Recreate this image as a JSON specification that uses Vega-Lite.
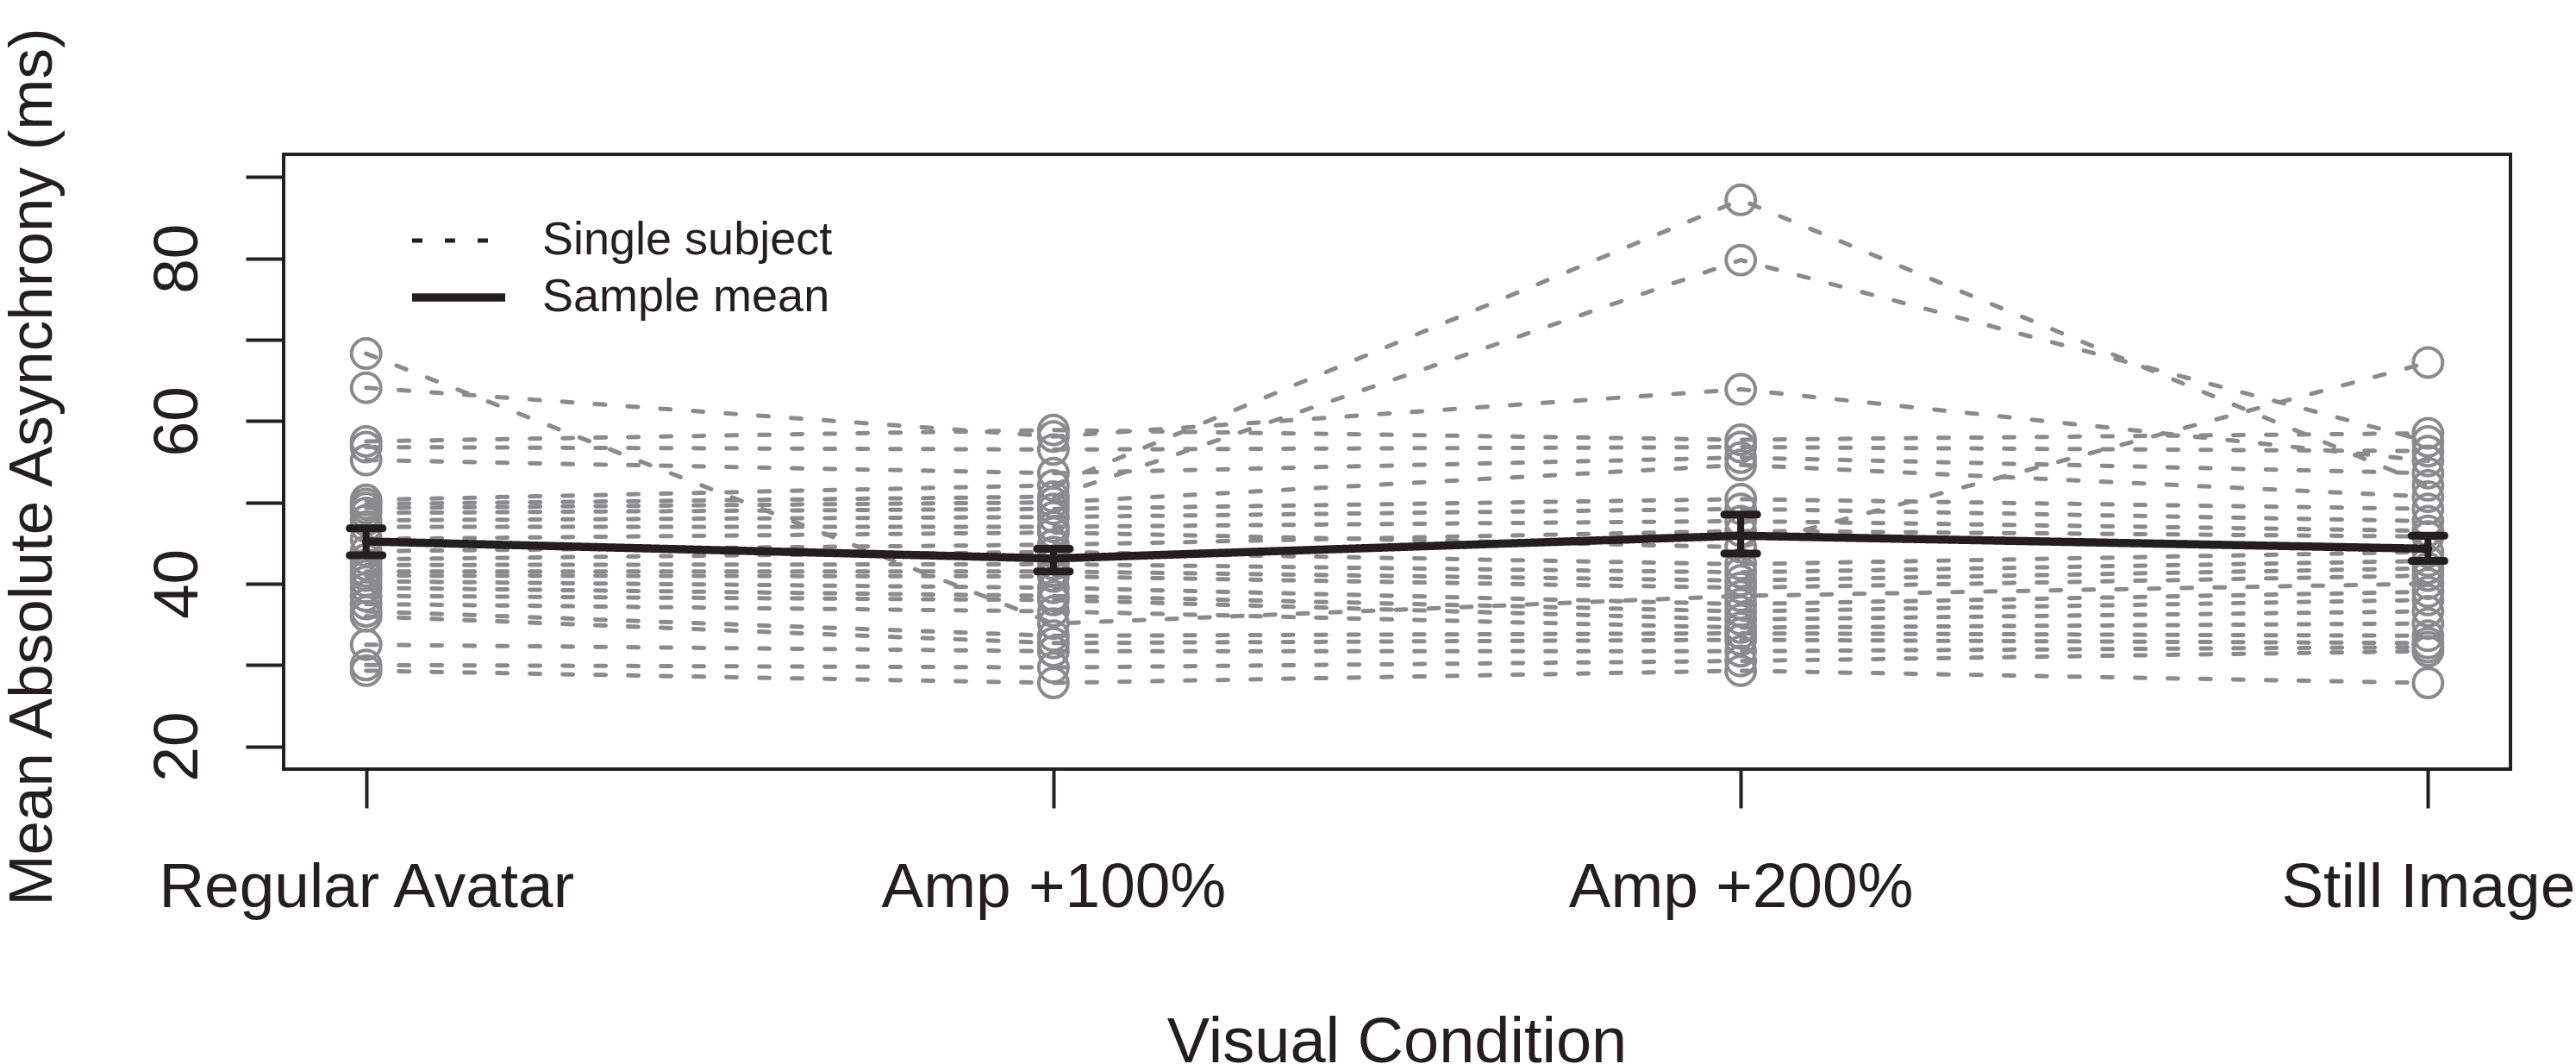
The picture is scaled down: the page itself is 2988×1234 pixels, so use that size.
{
  "$schema": "https://vega.github.io/schema/vega-lite/v6.json",
  "description": "Mean absolute asynchrony per subject across four visual conditions, with the sample mean and error bars.",
  "width": 2583,
  "height": 713,
  "autosize": "none",
  "padding": {"left": 329, "top": 179, "right": 76, "bottom": 342},
  "background": "white",
  "datasets": {
    "subjects": [
      {"subject": 1, "idx": 1, "condition": "Regular Avatar", "value": 68.3, "series": "Single subject"},
      {"subject": 1, "idx": 2, "condition": "Amp +100%", "value": 35.1, "series": "Single subject"},
      {"subject": 1, "idx": 3, "condition": "Amp +200%", "value": 38.5, "series": "Single subject"},
      {"subject": 1, "idx": 4, "condition": "Still Image", "value": 40.0, "series": "Single subject"},
      {"subject": 2, "idx": 1, "condition": "Regular Avatar", "value": 64.1, "series": "Single subject"},
      {"subject": 2, "idx": 2, "condition": "Amp +100%", "value": 58.1, "series": "Single subject"},
      {"subject": 2, "idx": 3, "condition": "Amp +200%", "value": 63.9, "series": "Single subject"},
      {"subject": 2, "idx": 4, "condition": "Still Image", "value": 55.1, "series": "Single subject"},
      {"subject": 3, "idx": 1, "condition": "Regular Avatar", "value": 57.5, "series": "Single subject"},
      {"subject": 3, "idx": 2, "condition": "Amp +100%", "value": 58.9, "series": "Single subject"},
      {"subject": 3, "idx": 3, "condition": "Amp +200%", "value": 57.7, "series": "Single subject"},
      {"subject": 3, "idx": 4, "condition": "Still Image", "value": 58.5, "series": "Single subject"},
      {"subject": 4, "idx": 1, "condition": "Regular Avatar", "value": 56.8, "series": "Single subject"},
      {"subject": 4, "idx": 2, "condition": "Amp +100%", "value": 56.5, "series": "Single subject"},
      {"subject": 4, "idx": 3, "condition": "Amp +200%", "value": 56.8, "series": "Single subject"},
      {"subject": 4, "idx": 4, "condition": "Still Image", "value": 56.3, "series": "Single subject"},
      {"subject": 5, "idx": 1, "condition": "Regular Avatar", "value": 55.2, "series": "Single subject"},
      {"subject": 5, "idx": 2, "condition": "Amp +100%", "value": 53.6, "series": "Single subject"},
      {"subject": 5, "idx": 3, "condition": "Amp +200%", "value": 55.5, "series": "Single subject"},
      {"subject": 5, "idx": 4, "condition": "Still Image", "value": 53.6, "series": "Single subject"},
      {"subject": 6, "idx": 1, "condition": "Regular Avatar", "value": 50.3, "series": "Single subject"},
      {"subject": 6, "idx": 2, "condition": "Amp +100%", "value": 52.1, "series": "Single subject"},
      {"subject": 6, "idx": 3, "condition": "Amp +200%", "value": 87.2, "series": "Single subject"},
      {"subject": 6, "idx": 4, "condition": "Still Image", "value": 52.1, "series": "Single subject"},
      {"subject": 7, "idx": 1, "condition": "Regular Avatar", "value": 49.8, "series": "Single subject"},
      {"subject": 7, "idx": 2, "condition": "Amp +100%", "value": 50.7, "series": "Single subject"},
      {"subject": 7, "idx": 3, "condition": "Amp +200%", "value": 79.8, "series": "Single subject"},
      {"subject": 7, "idx": 4, "condition": "Still Image", "value": 57.5, "series": "Single subject"},
      {"subject": 8, "idx": 1, "condition": "Regular Avatar", "value": 49.3, "series": "Single subject"},
      {"subject": 8, "idx": 2, "condition": "Amp +100%", "value": 50.0, "series": "Single subject"},
      {"subject": 8, "idx": 3, "condition": "Amp +200%", "value": 54.6, "series": "Single subject"},
      {"subject": 8, "idx": 4, "condition": "Still Image", "value": 50.7, "series": "Single subject"},
      {"subject": 9, "idx": 1, "condition": "Regular Avatar", "value": 48.7, "series": "Single subject"},
      {"subject": 9, "idx": 2, "condition": "Amp +100%", "value": 49.2, "series": "Single subject"},
      {"subject": 9, "idx": 3, "condition": "Amp +200%", "value": 50.4, "series": "Single subject"},
      {"subject": 9, "idx": 4, "condition": "Still Image", "value": 49.2, "series": "Single subject"},
      {"subject": 10, "idx": 1, "condition": "Regular Avatar", "value": 47.8, "series": "Single subject"},
      {"subject": 10, "idx": 2, "condition": "Amp +100%", "value": 48.2, "series": "Single subject"},
      {"subject": 10, "idx": 3, "condition": "Amp +200%", "value": 49.2, "series": "Single subject"},
      {"subject": 10, "idx": 4, "condition": "Still Image", "value": 47.7, "series": "Single subject"},
      {"subject": 11, "idx": 1, "condition": "Regular Avatar", "value": 47.0, "series": "Single subject"},
      {"subject": 11, "idx": 2, "condition": "Amp +100%", "value": 47.0, "series": "Single subject"},
      {"subject": 11, "idx": 3, "condition": "Amp +200%", "value": 47.7, "series": "Single subject"},
      {"subject": 11, "idx": 4, "condition": "Still Image", "value": 46.5, "series": "Single subject"},
      {"subject": 12, "idx": 1, "condition": "Regular Avatar", "value": 45.5, "series": "Single subject"},
      {"subject": 12, "idx": 2, "condition": "Amp +100%", "value": 46.3, "series": "Single subject"},
      {"subject": 12, "idx": 3, "condition": "Amp +200%", "value": 44.5, "series": "Single subject"},
      {"subject": 12, "idx": 4, "condition": "Still Image", "value": 67.2, "series": "Single subject"},
      {"subject": 13, "idx": 1, "condition": "Regular Avatar", "value": 44.0, "series": "Single subject"},
      {"subject": 13, "idx": 2, "condition": "Amp +100%", "value": 44.8, "series": "Single subject"},
      {"subject": 13, "idx": 3, "condition": "Amp +200%", "value": 46.5, "series": "Single subject"},
      {"subject": 13, "idx": 4, "condition": "Still Image", "value": 45.8, "series": "Single subject"},
      {"subject": 14, "idx": 1, "condition": "Regular Avatar", "value": 43.0, "series": "Single subject"},
      {"subject": 14, "idx": 2, "condition": "Amp +100%", "value": 43.9, "series": "Single subject"},
      {"subject": 14, "idx": 3, "condition": "Amp +200%", "value": 42.4, "series": "Single subject"},
      {"subject": 14, "idx": 4, "condition": "Still Image", "value": 43.9, "series": "Single subject"},
      {"subject": 15, "idx": 1, "condition": "Regular Avatar", "value": 42.3, "series": "Single subject"},
      {"subject": 15, "idx": 2, "condition": "Amp +100%", "value": 42.4, "series": "Single subject"},
      {"subject": 15, "idx": 3, "condition": "Amp +200%", "value": 41.4, "series": "Single subject"},
      {"subject": 15, "idx": 4, "condition": "Still Image", "value": 42.8, "series": "Single subject"},
      {"subject": 16, "idx": 1, "condition": "Regular Avatar", "value": 41.5, "series": "Single subject"},
      {"subject": 16, "idx": 2, "condition": "Amp +100%", "value": 41.5, "series": "Single subject"},
      {"subject": 16, "idx": 3, "condition": "Amp +200%", "value": 40.4, "series": "Single subject"},
      {"subject": 16, "idx": 4, "condition": "Still Image", "value": 41.9, "series": "Single subject"},
      {"subject": 17, "idx": 1, "condition": "Regular Avatar", "value": 41.0, "series": "Single subject"},
      {"subject": 17, "idx": 2, "condition": "Amp +100%", "value": 40.9, "series": "Single subject"},
      {"subject": 17, "idx": 3, "condition": "Amp +200%", "value": 39.5, "series": "Single subject"},
      {"subject": 17, "idx": 4, "condition": "Still Image", "value": 41.0, "series": "Single subject"},
      {"subject": 18, "idx": 1, "condition": "Regular Avatar", "value": 40.3, "series": "Single subject"},
      {"subject": 18, "idx": 2, "condition": "Amp +100%", "value": 39.5, "series": "Single subject"},
      {"subject": 18, "idx": 3, "condition": "Amp +200%", "value": 37.5, "series": "Single subject"},
      {"subject": 18, "idx": 4, "condition": "Still Image", "value": 39.0, "series": "Single subject"},
      {"subject": 19, "idx": 1, "condition": "Regular Avatar", "value": 39.5, "series": "Single subject"},
      {"subject": 19, "idx": 2, "condition": "Amp +100%", "value": 38.5, "series": "Single subject"},
      {"subject": 19, "idx": 3, "condition": "Amp +200%", "value": 36.6, "series": "Single subject"},
      {"subject": 19, "idx": 4, "condition": "Still Image", "value": 38.0, "series": "Single subject"},
      {"subject": 20, "idx": 1, "condition": "Regular Avatar", "value": 38.5, "series": "Single subject"},
      {"subject": 20, "idx": 2, "condition": "Amp +100%", "value": 38.0, "series": "Single subject"},
      {"subject": 20, "idx": 3, "condition": "Amp +200%", "value": 35.6, "series": "Single subject"},
      {"subject": 20, "idx": 4, "condition": "Still Image", "value": 36.6, "series": "Single subject"},
      {"subject": 21, "idx": 1, "condition": "Regular Avatar", "value": 37.5, "series": "Single subject"},
      {"subject": 21, "idx": 2, "condition": "Amp +100%", "value": 36.6, "series": "Single subject"},
      {"subject": 21, "idx": 3, "condition": "Amp +200%", "value": 34.6, "series": "Single subject"},
      {"subject": 21, "idx": 4, "condition": "Still Image", "value": 35.1, "series": "Single subject"},
      {"subject": 22, "idx": 1, "condition": "Regular Avatar", "value": 36.6, "series": "Single subject"},
      {"subject": 22, "idx": 2, "condition": "Amp +100%", "value": 33.6, "series": "Single subject"},
      {"subject": 22, "idx": 3, "condition": "Amp +200%", "value": 33.9, "series": "Single subject"},
      {"subject": 22, "idx": 4, "condition": "Still Image", "value": 33.6, "series": "Single subject"},
      {"subject": 23, "idx": 1, "condition": "Regular Avatar", "value": 36.0, "series": "Single subject"},
      {"subject": 23, "idx": 2, "condition": "Amp +100%", "value": 32.7, "series": "Single subject"},
      {"subject": 23, "idx": 3, "condition": "Amp +200%", "value": 33.1, "series": "Single subject"},
      {"subject": 23, "idx": 4, "condition": "Still Image", "value": 32.7, "series": "Single subject"},
      {"subject": 24, "idx": 1, "condition": "Regular Avatar", "value": 32.5, "series": "Single subject"},
      {"subject": 24, "idx": 2, "condition": "Amp +100%", "value": 31.7, "series": "Single subject"},
      {"subject": 24, "idx": 3, "condition": "Amp +200%", "value": 31.7, "series": "Single subject"},
      {"subject": 24, "idx": 4, "condition": "Still Image", "value": 32.2, "series": "Single subject"},
      {"subject": 25, "idx": 1, "condition": "Regular Avatar", "value": 30.0, "series": "Single subject"},
      {"subject": 25, "idx": 2, "condition": "Amp +100%", "value": 29.7, "series": "Single subject"},
      {"subject": 25, "idx": 3, "condition": "Amp +200%", "value": 30.5, "series": "Single subject"},
      {"subject": 25, "idx": 4, "condition": "Still Image", "value": 31.7, "series": "Single subject"},
      {"subject": 26, "idx": 1, "condition": "Regular Avatar", "value": 29.3, "series": "Single subject"},
      {"subject": 26, "idx": 2, "condition": "Amp +100%", "value": 27.8, "series": "Single subject"},
      {"subject": 26, "idx": 3, "condition": "Amp +200%", "value": 29.3, "series": "Single subject"},
      {"subject": 26, "idx": 4, "condition": "Still Image", "value": 27.8, "series": "Single subject"}
    ],
    "means": [
      {"idx": 1, "condition": "Regular Avatar", "mean": 45.2, "lo": 43.5, "hi": 46.8, "series": "Sample mean"},
      {"idx": 2, "condition": "Amp +100%", "mean": 43.1, "lo": 41.5, "hi": 44.3, "series": "Sample mean"},
      {"idx": 3, "condition": "Amp +200%", "mean": 45.9, "lo": 43.7, "hi": 48.5, "series": "Sample mean"},
      {"idx": 4, "condition": "Still Image", "mean": 44.3, "lo": 42.8, "hi": 45.9, "series": "Sample mean"}
    ]
  },
  "encoding": {
    "x": {
      "field": "condition",
      "type": "ordinal",
      "sort": ["Regular Avatar", "Amp +100%", "Amp +200%", "Still Image"],
      "scale": {"type": "point", "padding": 0.12},
      "axis": {
        "title": "Visual Condition",
        "domain": false,
        "grid": false,
        "labelAngle": 0,
        "tickSize": 45,
        "tickWidth": 4,
        "labelBaseline": "alphabetic",
        "labelPadding": 114,
        "labelFontSize": 73,
        "labelLimit": 0,
        "labelOverlap": false,
        "labelBound": false,
        "titleFontSize": 74,
        "titleFontWeight": "normal",
        "titleBaseline": "alphabetic",
        "titleX": 1291,
        "titleY": 339
      }
    }
  },
  "layer": [
    {
      "data": {"name": "subjects"},
      "mark": {"type": "line", "color": "#8b8b8d", "strokeCap": "round"},
      "encoding": {
        "y": {"field": "value", "type": "quantitative"},
        "detail": {"field": "subject"},
        "order": {"field": "idx", "type": "quantitative"},
        "strokeDash": {
          "field": "series",
          "type": "nominal",
          "scale": {"domain": ["Single subject", "Sample mean"], "range": [[12, 26], [1, 0]]},
          "legend": {"title": null}
        },
        "strokeWidth": {
          "field": "series",
          "type": "nominal",
          "scale": {"domain": ["Single subject", "Sample mean"], "range": [5, 9.5]},
          "legend": {"title": null}
        }
      }
    },
    {
      "data": {"name": "subjects"},
      "mark": {"type": "point", "shape": "circle", "filled": false, "color": "#8b8b8d", "opacity": 1, "size": 1150, "strokeWidth": 4},
      "encoding": {
        "y": {"field": "value", "type": "quantitative"}
      }
    },
    {
      "data": {"name": "means"},
      "mark": {"type": "line", "color": "#231f20", "strokeCap": "round"},
      "encoding": {
        "y": {"field": "mean", "type": "quantitative"},
        "order": {"field": "idx", "type": "quantitative"},
        "strokeDash": {"field": "series", "type": "nominal", "legend": {"title": null}},
        "strokeWidth": {"field": "series", "type": "nominal", "legend": {"title": null}}
      }
    },
    {
      "data": {"name": "means"},
      "mark": {"type": "rule", "color": "#231f20", "strokeWidth": 8},
      "encoding": {
        "y": {"field": "lo", "type": "quantitative"},
        "y2": {"field": "hi"}
      }
    },
    {
      "data": {"name": "means"},
      "mark": {"type": "tick", "color": "#231f20", "size": 47, "thickness": 9, "cornerRadius": 4, "opacity": 1},
      "encoding": {
        "y": {"field": "lo", "type": "quantitative"}
      }
    },
    {
      "data": {"name": "means"},
      "mark": {"type": "tick", "color": "#231f20", "size": 47, "thickness": 9, "cornerRadius": 4, "opacity": 1},
      "encoding": {
        "y": {
          "field": "hi",
          "type": "quantitative",
          "scale": {"domain": [17.2, 92.8], "nice": false, "zero": false},
          "axis": {
            "title": "Mean Absolute Asynchrony (ms)",
            "values": [20, 30, 40, 50, 60, 70, 80, 90],
            "labelExpr": "datum.value % 20 === 0 ? datum.label : ''",
            "domain": false,
            "grid": false,
            "tickSize": 44,
            "tickWidth": 4,
            "labelAngle": -90,
            "labelAlign": "center",
            "labelBaseline": "alphabetic",
            "labelPadding": 57,
            "labelFontSize": 73,
            "labelLimit": 0,
            "labelOverlap": false,
            "labelFlush": false,
            "labelBound": false,
            "titleFontSize": 71,
            "titleFontWeight": "normal",
            "titleLimit": 0,
            "titleAngle": -90,
            "titleAlign": "center",
            "titleBaseline": "alphabetic",
            "titleX": -270,
            "titleY": 362
          }
        }
      }
    }
  ],
  "config": {
    "font": "Liberation Sans",
    "view": {"stroke": "#231f20", "strokeWidth": 4},
    "axis": {
      "labelColor": "#231f20",
      "titleColor": "#231f20",
      "tickColor": "#231f20",
      "labelFont": "Liberation Sans",
      "titleFont": "Liberation Sans"
    },
    "legend": {
      "orient": "none",
      "legendX": 144,
      "legendY": 67,
      "padding": 0,
      "rowPadding": 0,
      "symbolType": "stroke",
      "symbolSize": 11664,
      "symbolStrokeColor": "#231f20",
      "labelFont": "Liberation Sans",
      "labelFontSize": 54,
      "labelLimit": 0,
      "labelColor": "#231f20",
      "labelOffset": 38,
      "clipHeight": 66
    }
  }
}
